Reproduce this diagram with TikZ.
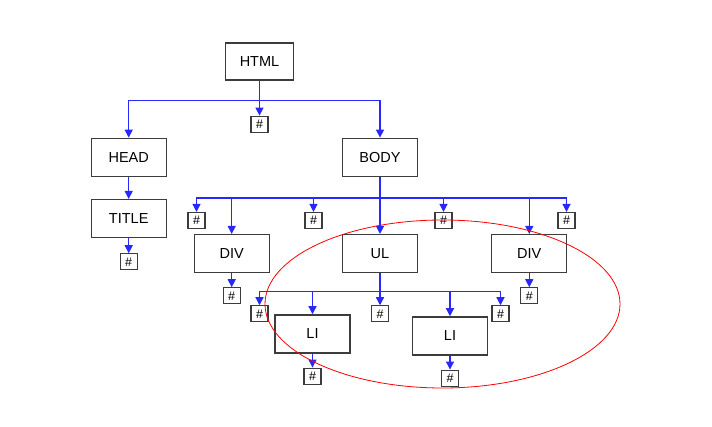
\documentclass[tikz,border=0pt]{standalone}
\usepackage{fontspec}
\setmainfont{Liberation Sans}
\usetikzlibrary{positioning,arrows.meta}

\definecolor{linkblue}{RGB}{40,40,250}
\definecolor{boxgray}{RGB}{60,60,60}
\tikzset{
  box/.style={draw=boxgray, line width=1.3pt, minimum width=75pt, minimum height=38pt,
              inner sep=0pt, font=\fontsize{14.5}{16}\selectfont},
  hash/.style={draw=boxgray, line width=1.2pt, minimum width=17pt, minimum height=16pt,
               inner sep=0pt, font=\fontsize{12.5}{13}\selectfont},
  link/.style={draw=linkblue, line width=1.2pt, ->}
}

\begin{document}
\begin{tikzpicture}[x=1pt, y=-1pt, >={Triangle[length=8pt,width=8pt]}]
  \useasboundingbox (0,0) rectangle (712,427);

  % element nodes
  \node (HTML)
        [box, minimum width=68pt, minimum height=37pt]
        at (259.5,61.5) {HTML};
  \node (HEAD)
        [box, below left=57pt and 58pt of HTML]
        {HEAD};
  \node (BODY)
        [box, right=175pt of HEAD]
        {BODY};
  \node (TITLE)
        [box, below=22pt of HEAD]
        {TITLE};
  \node (UL)
        [box, below=57pt of BODY]
        {UL};
  \node (DIVa)
        [box, left=72pt of UL]
        {DIV};
  \node (DIVb)
        [box, right=73pt of UL]
        {DIV};
  \node (LIa)
        [box, below=41pt of UL, xshift=-67.5pt]
        {LI};
  \node (LIb)
        [box, below=43pt of UL, xshift=70pt]
        {LI};

  % text nodes
  \node (hHTML)  [hash, below=35pt of HTML] {\#};
  \node (hTITLE) [hash, below=15pt of TITLE] {\#};
  \node (hBODYa) [hash, below=35pt of BODY, xshift=-183.5pt] {\#};
  \node (hBODYb) [hash, below=35pt of BODY, xshift=-66.5pt] {\#};
  \node (hBODYc) [hash, below=35pt of BODY, xshift=63.5pt] {\#};
  \node (hBODYd) [hash, below=35pt of BODY, xshift=186.5pt] {\#};
  \node (hDIVa)  [hash, below=14pt of DIVa] {\#};
  \node (hDIVb)  [hash, below=14pt of DIVb] {\#};
  \node (hULa)   [hash, below=32pt of UL, xshift=-120.5pt] {\#};
  \node (hULb)   [hash, below=32pt of UL] {\#};
  \node (hULc)   [hash, below=32pt of UL, xshift=120.5pt] {\#};
  \node (hLIa)   [hash, below=14pt of LIa] {\#};
  \node (hLIb)   [hash, below=14pt of LIb] {\#};

  % branch points
  \coordinate [below=20pt of HTML] (jHTML);
  \coordinate [below=21pt of BODY] (jBODY);
  \coordinate [below=18pt of UL] (jUL);

  \draw[link] (HTML) -- (hHTML);
  \draw[link] (jHTML) -| (HEAD);
  \draw[link] (jHTML) -| (BODY);
  \draw[link] (HEAD) -- (TITLE);
  \draw[link] (TITLE) -- (hTITLE);

  \draw[link] (BODY) -- (UL);
  \draw[link] (jBODY) -| (hBODYa);
  \draw[link] (jBODY) -| (DIVa);
  \draw[link] (jBODY) -| (hBODYb);
  \draw[link] (jBODY) -| (hBODYc);
  \draw[link] (jBODY) -| (DIVb);
  \draw[link] (jBODY) -| (hBODYd);
  \draw[link] (DIVa) -- (hDIVa);
  \draw[link] (DIVb) -- (hDIVb);

  \draw[link] (UL) -- (hULb);
  \draw[link] (jUL) -| (hULa);
  \draw[link] (jUL) -| (LIa);
  \draw[link] (jUL) -| (LIb);
  \draw[link] (jUL) -| (hULc);
  \draw[link] (LIa) -- (hLIa);
  \draw[link] (LIb) -- (hLIb);

  % selection
  \draw[red, line width=0.8pt] (442.5,304) ellipse [x radius=177.5pt, y radius=84pt];
\end{tikzpicture}
\end{document}
